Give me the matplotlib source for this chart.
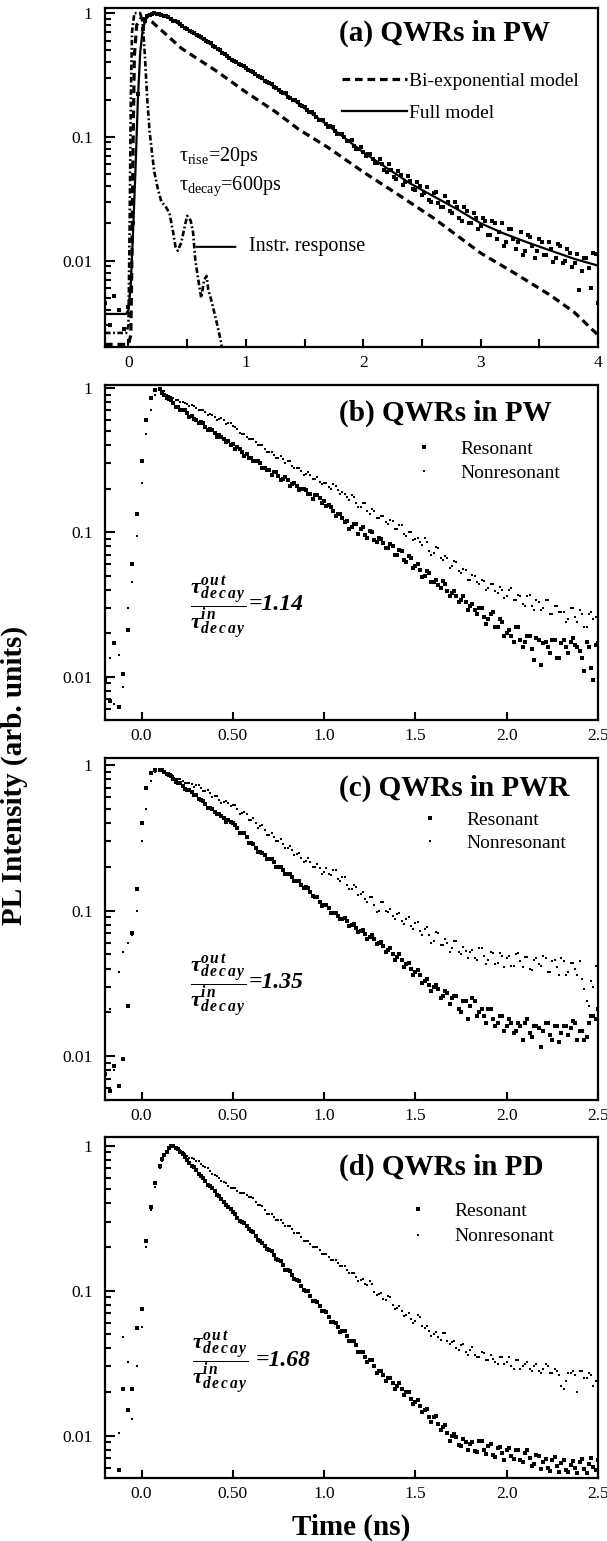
import numpy as np
import matplotlib
matplotlib.use('Agg')
import matplotlib.pyplot as plt
from matplotlib.ticker import FixedLocator, FixedFormatter, LogLocator, NullFormatter

plt.rcParams['font.family'] = ['Liberation Serif', 'DejaVu Serif']
plt.rcParams['mathtext.fontset'] = 'custom'
plt.rcParams['mathtext.rm'] = 'Liberation Serif'
plt.rcParams['mathtext.it'] = 'Liberation Serif:italic'
plt.rcParams['mathtext.bf'] = 'Liberation Serif:bold'
try:
    plt.rcParams['mathtext.bfit'] = 'Liberation Serif:italic:bold'
    HAS_BFIT = True
except KeyError:
    HAS_BFIT = False
plt.rcParams['lines.scale_dashes'] = False

# ---------------- Panel (a) data ----------------
time_a = [-0.20, -0.16, -0.12, -0.08, -0.04, 0.00, 0.04, 0.08, 0.12, 0.16,
          0.20, 0.24, 0.28, 0.32, 0.36, 0.40, 0.44, 0.48, 0.52, 0.56,
          0.60, 0.64, 0.68, 0.72, 0.76, 0.80, 0.84, 0.88, 0.92, 0.96,
          1.00, 1.04, 1.08, 1.12, 1.16, 1.20, 1.24, 1.28, 1.32, 1.36,
          1.40, 1.44, 1.48, 1.52, 1.56, 1.60, 1.64, 1.68, 1.72, 1.76,
          1.80, 1.84, 1.88, 1.92, 1.96, 2.00, 2.04, 2.08, 2.12, 2.16,
          2.20, 2.24, 2.28, 2.32, 2.36, 2.40, 2.44, 2.48, 2.52, 2.56,
          2.60, 2.64, 2.68, 2.72, 2.76, 2.80, 2.84, 2.88, 2.92, 2.96,
          3.00, 3.04, 3.08, 3.12, 3.16, 3.20, 3.24, 3.28, 3.32, 3.36,
          3.40, 3.44, 3.48, 3.52, 3.56, 3.60, 3.64, 3.68, 3.72, 3.76,
          3.80, 3.84, 3.88, 3.92, 3.96, 4.00]
data_a = [0.0045, 0.0030, 0.0052, 0.0040, 0.0028, 0.0042, 0.020, 0.22, 0.74, 0.95,
          0.99, 0.98, 0.97, 0.94, 0.90, 0.86, 0.81, 0.76, 0.72, 0.69,
          0.65, 0.62, 0.58, 0.54, 0.51, 0.48, 0.45, 0.42, 0.40, 0.38,
          0.36, 0.34, 0.32, 0.305, 0.285, 0.27, 0.255, 0.24, 0.225, 0.21,
          0.20, 0.19, 0.178, 0.165, 0.158, 0.145, 0.138, 0.128, 0.122, 0.112,
          0.105, 0.099, 0.092, 0.085, 0.080, 0.075, 0.072, 0.066, 0.062, 0.060,
          0.052, 0.054, 0.046, 0.049, 0.043, 0.044, 0.037, 0.040, 0.035, 0.031,
          0.035, 0.029, 0.027, 0.030, 0.024, 0.027, 0.021, 0.025, 0.020, 0.022,
          0.019, 0.021, 0.016, 0.020, 0.017, 0.013, 0.018, 0.015, 0.014, 0.011,
          0.016, 0.013, 0.012, 0.014, 0.011, 0.0125, 0.0105, 0.013, 0.010, 0.0115,
          0.0095, 0.0058, 0.0105, 0.0087, 0.0115, 0.0045]

time_a_mid = [0.14, 0.18, 0.22, 0.26, 0.30, 0.34, 0.38, 0.42, 0.46, 0.50,
              0.54, 0.58, 0.62, 0.66, 0.70, 0.74, 0.78, 0.82, 0.86, 0.90,
              0.94, 0.98, 1.02, 1.06, 1.10, 1.14, 1.18, 1.22, 1.26, 1.30,
              1.34, 1.38, 1.42, 1.46, 1.50, 1.54, 1.58, 1.62, 1.66, 1.70,
              1.74, 1.78, 1.82, 1.86, 1.90, 1.94, 1.98, 2.02, 2.06, 2.10,
              2.14, 2.18, 2.22, 2.26, 2.30, 2.34, 2.38, 2.42, 2.46, 2.50,
              2.54, 2.58, 2.62, 2.66, 2.70, 2.74, 2.78, 2.82, 2.86, 2.90,
              2.94, 2.98, 3.02, 3.06, 3.10, 3.14, 3.18, 3.22, 3.26, 3.30,
              3.34, 3.38, 3.42, 3.46, 3.50, 3.54, 3.58, 3.62, 3.66, 3.70,
              3.74, 3.78, 3.82, 3.86, 3.90, 3.94, 3.98]
data_a_mid = [0.86, 0.97, 1.0, 0.99, 0.95, 0.93, 0.87, 0.84, 0.78, 0.75,
              0.71, 0.66, 0.64, 0.59, 0.57, 0.53, 0.50, 0.47, 0.43, 0.41,
              0.39, 0.375, 0.345, 0.335, 0.31, 0.30, 0.275, 0.265, 0.25, 0.23,
              0.225, 0.205, 0.197, 0.18, 0.175, 0.158, 0.153, 0.138, 0.136, 0.12,
              0.12, 0.105, 0.106, 0.092, 0.094, 0.08, 0.083, 0.07, 0.073, 0.061,
              0.066, 0.054, 0.060, 0.047, 0.053, 0.041, 0.048, 0.038, 0.043, 0.034,
              0.039, 0.030, 0.036, 0.027, 0.033, 0.025, 0.030, 0.022, 0.027, 0.020,
              0.024, 0.018, 0.022, 0.016, 0.021, 0.015, 0.020, 0.014, 0.018, 0.0125,
              0.017, 0.012, 0.0155, 0.0105, 0.015, 0.011, 0.014, 0.0098, 0.0135, 0.0095,
              0.0125, 0.0088, 0.0112, 0.0082, 0.0105, 0.0060, 0.0112]

model_t = [-0.20, -0.02, 0.00, 0.02, 0.04, 0.06, 0.08, 0.10, 0.12, 0.15,
           0.20, 0.25, 0.30, 0.40, 0.50, 0.60, 0.70, 0.80, 0.90, 1.00,
           1.20, 1.40, 1.60, 1.80, 2.00, 2.20, 2.40, 2.60, 2.80, 3.00,
           3.20, 3.40, 3.60, 3.80, 4.00]
full_model = [0.0037, 0.0037, 0.0040, 0.0065, 0.018, 0.055, 0.20, 0.48, 0.72, 0.92,
              0.99, 1.0, 0.96, 0.85, 0.74, 0.64, 0.56, 0.48, 0.41, 0.36,
              0.27, 0.20, 0.145, 0.105, 0.075, 0.056, 0.042, 0.033, 0.026, 0.020,
              0.0165, 0.014, 0.012, 0.0103, 0.0091]

biexp_t = [-0.20, 0.00, 0.02, 0.03, 0.04, 0.05, 0.07, 0.10, 0.15, 0.20,
           0.30, 0.45, 0.60, 0.75, 1.00, 1.25, 1.45, 1.70, 2.00, 2.30,
           2.60, 3.00, 3.30, 3.60, 3.80, 4.00]
biexp_model = [0.0021, 0.0021, 0.0025, 0.012, 0.10, 0.45, 0.80, 0.90, 0.90, 0.85,
               0.70, 0.52, 0.42, 0.34, 0.23, 0.16, 0.115, 0.082, 0.052, 0.034,
               0.022, 0.0115, 0.0078, 0.0052, 0.0038, 0.0025]

instr_t = [-0.20, -0.02, 0.00, 0.01, 0.02, 0.03, 0.05, 0.10, 0.12, 0.14,
           0.16, 0.18, 0.20, 0.22, 0.25, 0.28, 0.32, 0.35, 0.38, 0.40,
           0.42, 0.45, 0.48, 0.50, 0.53, 0.55, 0.57, 0.60, 0.62, 0.645,
           0.665, 0.68, 0.70, 0.72, 0.75, 0.78, 0.80]
instr_resp = [0.0026, 0.0026, 0.003, 0.02, 0.2, 0.7, 1.0, 1.0, 0.85, 0.45,
              0.20, 0.11, 0.075, 0.052, 0.038, 0.030, 0.027, 0.024, 0.017, 0.013,
              0.012, 0.014, 0.019, 0.023, 0.021, 0.017, 0.010, 0.0065, 0.0050, 0.0070,
              0.0075, 0.0058, 0.0050, 0.0042, 0.0032, 0.0024, 0.0019]

# ---------------- Panels (b)-(d) data ----------------
time_bcd = [-0.200, -0.175, -0.150, -0.125, -0.100, -0.075, -0.050, -0.025,
            0.000, 0.025, 0.050, 0.075, 0.100, 0.125, 0.150, 0.175,
            0.200, 0.225, 0.250, 0.275, 0.300, 0.325, 0.350, 0.375,
            0.400, 0.425, 0.450, 0.475, 0.500, 0.525, 0.550, 0.575,
            0.600, 0.625, 0.650, 0.675, 0.700, 0.725, 0.750, 0.775,
            0.800, 0.825, 0.850, 0.875, 0.900, 0.925, 0.950, 0.975,
            1.000, 1.025, 1.050, 1.075, 1.100, 1.125, 1.150, 1.175,
            1.200, 1.225, 1.250, 1.275, 1.300, 1.325, 1.350, 1.375,
            1.400, 1.425, 1.450, 1.475, 1.500, 1.525, 1.550, 1.575,
            1.600, 1.625, 1.650, 1.675, 1.700, 1.725, 1.750, 1.775,
            1.800, 1.825, 1.850, 1.875, 1.900, 1.925, 1.950, 1.975,
            2.000, 2.025, 2.050, 2.075, 2.100, 2.125, 2.150, 2.175,
            2.200, 2.225, 2.250, 2.275, 2.300, 2.325, 2.350, 2.375,
            2.400, 2.425, 2.450, 2.475, 2.500]
time_mid = [0.1125, 0.1375, 0.1625, 0.1875, 0.2125, 0.2375, 0.2625, 0.2875,
            0.3125, 0.3375, 0.3625, 0.3875, 0.4125, 0.4375, 0.4625, 0.4875,
            0.5125, 0.5375, 0.5625, 0.5875, 0.6125, 0.6375, 0.6625, 0.6875,
            0.7125, 0.7375, 0.7625, 0.7875, 0.8125, 0.8375, 0.8625, 0.8875,
            0.9125, 0.9375, 0.9625, 0.9875, 1.0125, 1.0375, 1.0625, 1.0875,
            1.1125, 1.1375, 1.1625, 1.1875, 1.2125, 1.2375, 1.2625, 1.2875,
            1.3125, 1.3375, 1.3625, 1.3875, 1.4125, 1.4375, 1.4625, 1.4875,
            1.5125, 1.5375, 1.5625, 1.5875, 1.6125, 1.6375, 1.6625, 1.6875,
            1.7125, 1.7375, 1.7625, 1.7875, 1.8125, 1.8375, 1.8625, 1.8875,
            1.9125, 1.9375, 1.9625, 1.9875, 2.0125, 2.0375, 2.0625, 2.0875,
            2.1125, 2.1375, 2.1625, 2.1875, 2.2125, 2.2375, 2.2625, 2.2875,
            2.3125, 2.3375, 2.3625, 2.3875, 2.4125, 2.4375, 2.4625, 2.4875]

res_b = [0.0095, 0.0068, 0.017, 0.0062, 0.0105, 0.021, 0.060, 0.135,
         0.31, 0.60, 0.86, 0.97, 0.98, 0.90, 0.84, 0.79,
         0.74, 0.71, 0.67, 0.64, 0.60, 0.58, 0.54, 0.52,
         0.49, 0.47, 0.44, 0.43, 0.41, 0.39, 0.36, 0.35,
         0.33, 0.31, 0.30, 0.28, 0.27, 0.26, 0.245, 0.235,
         0.23, 0.215, 0.21, 0.20, 0.195, 0.185, 0.18, 0.172,
         0.165, 0.155, 0.14, 0.135, 0.125, 0.12, 0.108, 0.115,
         0.105, 0.096, 0.102, 0.088, 0.092, 0.084, 0.078, 0.080,
         0.070, 0.074, 0.062, 0.066, 0.058, 0.055, 0.050, 0.052,
         0.045, 0.043, 0.046, 0.039, 0.038, 0.036, 0.034, 0.033,
         0.031, 0.029, 0.030, 0.026, 0.025, 0.028, 0.022, 0.024,
         0.020, 0.019, 0.022, 0.018, 0.0175, 0.019, 0.013, 0.018,
         0.017, 0.016, 0.018, 0.0135, 0.017, 0.016, 0.0175, 0.0165,
         0.015, 0.011, 0.016, 0.0095, 0.017]
res_b_mid = [0.93, 0.85, 0.83, 0.74, 0.70, 0.70, 0.63, 0.61,
             0.57, 0.57, 0.51, 0.51, 0.46, 0.46, 0.42, 0.40,
             0.38, 0.38, 0.34, 0.33, 0.31, 0.31, 0.28, 0.27,
             0.25, 0.26, 0.23, 0.24, 0.21, 0.22, 0.195, 0.20,
             0.185, 0.17, 0.18, 0.16, 0.152, 0.15, 0.13, 0.134,
             0.118, 0.105, 0.115, 0.098, 0.108, 0.092, 0.10, 0.085,
             0.09, 0.078, 0.083, 0.07, 0.075, 0.064, 0.068, 0.057,
             0.060, 0.049, 0.054, 0.045, 0.047, 0.041, 0.044, 0.036,
             0.039, 0.033, 0.036, 0.029, 0.032, 0.027, 0.030, 0.023,
             0.027, 0.022, 0.025, 0.019, 0.021, 0.0175, 0.022, 0.016,
             0.019, 0.0155, 0.0185, 0.012, 0.0175, 0.0145, 0.018, 0.0135,
             0.018, 0.0145, 0.0185, 0.016, 0.0135, 0.0175, 0.0115, 0.0165]
non_b = [0.0072, 0.0135, 0.0065, 0.014, 0.0085, 0.030, 0.045, 0.095,
         0.22, 0.48, 0.70, 0.90, 1.0, 0.95, 0.88, 0.85,
         0.82, 0.80, 0.77, 0.76, 0.73, 0.71, 0.68, 0.66,
         0.63, 0.61, 0.60, 0.57, 0.55, 0.52, 0.48, 0.46,
         0.44, 0.42, 0.40, 0.38, 0.36, 0.345, 0.33, 0.32,
         0.31, 0.29, 0.28, 0.265, 0.255, 0.25, 0.235, 0.225,
         0.22, 0.205, 0.215, 0.195, 0.19, 0.175, 0.18, 0.16,
         0.15, 0.16, 0.135, 0.14, 0.125, 0.13, 0.115, 0.12,
         0.105, 0.112, 0.095, 0.10, 0.09, 0.085, 0.092, 0.074,
         0.072, 0.078, 0.064, 0.066, 0.058, 0.062, 0.052, 0.055,
         0.047, 0.050, 0.044, 0.046, 0.041, 0.044, 0.038, 0.040,
         0.036, 0.041, 0.034, 0.036, 0.031, 0.037, 0.029, 0.033,
         0.030, 0.034, 0.027, 0.031, 0.028, 0.024, 0.030, 0.026,
         0.029, 0.022, 0.027, 0.025, 0.031]
non_b_mid = [0.96, 0.90, 0.87, 0.82, 0.80, 0.79, 0.75, 0.75,
             0.70, 0.70, 0.65, 0.65, 0.60, 0.62, 0.56, 0.57,
             0.54, 0.49, 0.48, 0.44, 0.44, 0.40, 0.40, 0.36,
             0.36, 0.33, 0.34, 0.30, 0.31, 0.28, 0.28, 0.25,
             0.26, 0.235, 0.24, 0.215, 0.22, 0.20, 0.21, 0.185,
             0.185, 0.168, 0.175, 0.15, 0.16, 0.14, 0.145, 0.125,
             0.13, 0.118, 0.122, 0.105, 0.112, 0.097, 0.10, 0.088,
             0.092, 0.082, 0.085, 0.07, 0.079, 0.066, 0.068, 0.057,
             0.063, 0.054, 0.056, 0.047, 0.051, 0.045, 0.047, 0.040,
             0.044, 0.039, 0.042, 0.035, 0.040, 0.034, 0.037, 0.032,
             0.036, 0.031, 0.034, 0.029, 0.034, 0.027, 0.031, 0.028,
             0.028, 0.025, 0.030, 0.024, 0.027, 0.022, 0.028, 0.026]

res_c = [0.0075, 0.0058, 0.0085, 0.0062, 0.0095, 0.022, 0.070, 0.14,
         0.40, 0.70, 0.88, 0.93, 0.92, 0.90, 0.86, 0.80,
         0.76, 0.72, 0.68, 0.65, 0.62, 0.58, 0.54, 0.51,
         0.48, 0.46, 0.43, 0.42, 0.40, 0.37, 0.34, 0.32,
         0.29, 0.27, 0.255, 0.24, 0.225, 0.215, 0.20, 0.19,
         0.18, 0.17, 0.16, 0.15, 0.145, 0.135, 0.125, 0.115,
         0.11, 0.104, 0.097, 0.092, 0.088, 0.085, 0.080, 0.076,
         0.073, 0.069, 0.066, 0.064, 0.060, 0.057, 0.054, 0.050,
         0.048, 0.046, 0.043, 0.040, 0.038, 0.036, 0.033, 0.031,
         0.030, 0.029, 0.026, 0.027, 0.025, 0.026, 0.020, 0.024,
         0.022, 0.024, 0.020, 0.019, 0.021, 0.018, 0.017, 0.019,
         0.016, 0.017, 0.015, 0.016, 0.017, 0.0145, 0.016, 0.0155,
         0.015, 0.017, 0.013, 0.016, 0.0145, 0.016, 0.0155, 0.017,
         0.015, 0.013, 0.017, 0.019, 0.021]
res_c_mid = [0.92, 0.87, 0.84, 0.77, 0.75, 0.69, 0.67, 0.62,
             0.59, 0.57, 0.51, 0.50, 0.46, 0.45, 0.41, 0.41,
             0.39, 0.34, 0.34, 0.29, 0.285, 0.255, 0.25, 0.225,
             0.225, 0.20, 0.20, 0.18, 0.18, 0.16, 0.16, 0.143,
             0.143, 0.127, 0.124, 0.108, 0.11, 0.097, 0.097, 0.087,
             0.089, 0.079, 0.081, 0.071, 0.074, 0.064, 0.068, 0.059,
             0.061, 0.052, 0.055, 0.046, 0.050, 0.041, 0.044, 0.036,
             0.039, 0.032, 0.034, 0.028, 0.031, 0.025, 0.028, 0.023,
             0.026, 0.021, 0.024, 0.018, 0.025, 0.019, 0.021, 0.017,
             0.021, 0.016, 0.019, 0.015, 0.018, 0.0145, 0.017, 0.013,
             0.018, 0.0135, 0.016, 0.0115, 0.017, 0.014, 0.016, 0.0125,
             0.016, 0.014, 0.0175, 0.013, 0.015, 0.0135, 0.019, 0.018]
non_c = [0.0068, 0.021, 0.008, 0.038, 0.052, 0.060, 0.068, 0.10,
         0.30, 0.50, 0.78, 0.90, 0.93, 0.91, 0.88, 0.84,
         0.80, 0.78, 0.76, 0.74, 0.73, 0.70, 0.66, 0.64,
         0.61, 0.58, 0.56, 0.55, 0.53, 0.50, 0.47, 0.46,
         0.42, 0.40, 0.38, 0.36, 0.33, 0.32, 0.30, 0.285,
         0.27, 0.26, 0.245, 0.23, 0.22, 0.215, 0.20, 0.195,
         0.185, 0.18, 0.19, 0.165, 0.17, 0.15, 0.14, 0.145,
         0.13, 0.12, 0.125, 0.11, 0.10, 0.115, 0.098, 0.092,
         0.095, 0.085, 0.088, 0.078, 0.082, 0.072, 0.075, 0.068,
         0.062, 0.070, 0.058, 0.060, 0.055, 0.062, 0.050, 0.053,
         0.052, 0.047, 0.055, 0.049, 0.046, 0.051, 0.044, 0.049,
         0.047, 0.042, 0.050, 0.045, 0.048, 0.040, 0.046, 0.043,
         0.049, 0.038, 0.045, 0.041, 0.047, 0.036, 0.044, 0.040,
         0.045, 0.029, 0.022, 0.030, 0.048]
non_c_mid = [0.93, 0.88, 0.87, 0.80, 0.80, 0.75, 0.76, 0.71,
             0.73, 0.66, 0.67, 0.60, 0.61, 0.55, 0.57, 0.52,
             0.53, 0.46, 0.48, 0.42, 0.43, 0.37, 0.39, 0.33,
             0.34, 0.30, 0.31, 0.27, 0.28, 0.24, 0.25, 0.215,
             0.23, 0.20, 0.21, 0.18, 0.195, 0.175, 0.19, 0.16,
             0.17, 0.14, 0.15, 0.128, 0.135, 0.115, 0.125, 0.098,
             0.115, 0.10, 0.102, 0.087, 0.096, 0.081, 0.09, 0.075,
             0.083, 0.068, 0.077, 0.06, 0.071, 0.058, 0.064, 0.052,
             0.062, 0.052, 0.056, 0.047, 0.054, 0.046, 0.055, 0.043,
             0.052, 0.043, 0.051, 0.041, 0.049, 0.042, 0.051, 0.041,
             0.048, 0.039, 0.047, 0.042, 0.047, 0.038, 0.046, 0.036,
             0.045, 0.038, 0.044, 0.036, 0.034, 0.024, 0.033, 0.042]

res_d = [np.nan, np.nan, np.nan, 0.0058, 0.021, 0.015, 0.021, 0.055,
         0.075, 0.22, 0.38, 0.55, 0.72, 0.87, 0.97, 1.0,
         0.95, 0.88, 0.80, 0.73, 0.68, 0.62, 0.57, 0.53,
         0.49, 0.45, 0.41, 0.38, 0.35, 0.32, 0.30, 0.28,
         0.26, 0.24, 0.22, 0.205, 0.19, 0.176, 0.163, 0.150,
         0.138, 0.128, 0.118, 0.108, 0.100, 0.092, 0.085, 0.078,
         0.072, 0.066, 0.061, 0.056, 0.053, 0.049, 0.045, 0.042,
         0.038, 0.035, 0.033, 0.030, 0.028, 0.026, 0.025, 0.023,
         0.022, 0.021, 0.020, 0.018, 0.017, 0.016, 0.015, 0.0135,
         0.0135, 0.012, 0.0115, 0.0105, 0.010, 0.0098, 0.0085, 0.0090,
         0.0088, 0.0078, 0.0092, 0.0080, 0.0085, 0.0074, 0.0082, 0.0076,
         0.0079, 0.0072, 0.0080, 0.0068, 0.0076, 0.0070, 0.0064, 0.0072,
         0.0066, 0.0060, 0.0068, 0.0062, 0.0065, 0.0058, 0.0063, 0.0060,
         0.0066, 0.0059, 0.0064, 0.0061, 0.0068]
res_d_mid = [0.81, 0.91, 0.99, 0.97, 0.91, 0.84, 0.76, 0.71,
             0.64, 0.60, 0.54, 0.51, 0.46, 0.43, 0.39, 0.365,
             0.34, 0.305, 0.295, 0.265, 0.255, 0.225, 0.215, 0.193,
             0.187, 0.166, 0.16, 0.14, 0.136, 0.12, 0.116, 0.101,
             0.099, 0.085, 0.084, 0.072, 0.071, 0.061, 0.060, 0.052,
             0.053, 0.045, 0.045, 0.038, 0.038, 0.032, 0.033, 0.027,
             0.028, 0.024, 0.025, 0.021, 0.023, 0.019, 0.020, 0.0165,
             0.0175, 0.0145, 0.0152, 0.0125, 0.0136, 0.011, 0.0118, 0.0092,
             0.0103, 0.0086, 0.0095, 0.0079, 0.0090, 0.0077, 0.0092, 0.0075,
             0.0087, 0.0071, 0.0084, 0.0068, 0.0082, 0.0069, 0.0080, 0.0066,
             0.0080, 0.0062, 0.0074, 0.0059, 0.0069, 0.0057, 0.0071, 0.0056,
             0.0068, 0.0056, 0.0067, 0.0055, 0.0069, 0.0055, 0.0070, 0.0058]
non_d = [np.nan, np.nan, np.nan, 0.0105, 0.048, 0.032, 0.013, 0.030,
         0.056, 0.20, 0.36, 0.52, 0.70, 0.85, 0.96, 0.99,
         0.96, 0.90, 0.85, 0.82, 0.79, 0.75, 0.71, 0.67,
         0.63, 0.60, 0.56, 0.53, 0.51, 0.49, 0.47, 0.46,
         0.44, 0.41, 0.39, 0.36, 0.34, 0.325, 0.31, 0.295,
         0.28, 0.265, 0.25, 0.235, 0.22, 0.21, 0.20, 0.19,
         0.18, 0.17, 0.162, 0.155, 0.148, 0.140, 0.132, 0.124,
         0.118, 0.112, 0.116, 0.098, 0.095, 0.088, 0.092, 0.080,
         0.076, 0.072, 0.068, 0.064, 0.062, 0.066, 0.055, 0.053,
         0.050, 0.048, 0.051, 0.045, 0.044, 0.040, 0.042, 0.038,
         0.039, 0.036, 0.035, 0.037, 0.033, 0.034, 0.031, 0.035,
         0.032, 0.030, 0.033, 0.029, 0.031, 0.029, 0.030, 0.028,
         0.029, 0.030, 0.027, 0.028, 0.022, 0.024, 0.027, 0.026,
         0.028, 0.025, 0.027, 0.022, 0.029]
non_d_mid = [0.79, 0.90, 0.98, 0.97, 0.93, 0.88, 0.83, 0.81,
             0.78, 0.72, 0.70, 0.64, 0.62, 0.57, 0.55, 0.51,
             0.51, 0.47, 0.475, 0.44, 0.435, 0.39, 0.385, 0.34,
             0.34, 0.31, 0.31, 0.28, 0.28, 0.25, 0.25, 0.222,
             0.22, 0.20, 0.20, 0.18, 0.18, 0.162, 0.163, 0.147,
             0.148, 0.132, 0.133, 0.117, 0.12, 0.11, 0.112, 0.093,
             0.097, 0.086, 0.09, 0.075, 0.078, 0.067, 0.07, 0.06,
             0.068, 0.057, 0.057, 0.049, 0.052, 0.046, 0.051, 0.043,
             0.045, 0.039, 0.043, 0.036, 0.041, 0.035, 0.038, 0.033,
             0.036, 0.032, 0.035, 0.031, 0.035, 0.029, 0.033, 0.030,
             0.032, 0.028, 0.031, 0.027, 0.031, 0.027, 0.029, 0.026,
             0.021, 0.027, 0.028, 0.020, 0.028, 0.025, 0.026, 0.024]

panel_titles = ['(a) QWRs in PW', '(b) QWRs in PW', '(c) QWRs in PWR', '(d) QWRs in PD']
ratios = ['=1.14', '=1.35', '=1.68']
series_labels = ['Resonant', 'Nonresonant']
xticks_a = [0, 1, 2, 3, 4]
xticklabels_a = ['0', '1', '2', '3', '4']
xticks_bcd = [0.0, 0.5, 1.0, 1.5, 2.0, 2.5]
xticklabels_bcd = ['0.0', '0.50', '1.0', '1.5', '2.0', '2.5']
yticks = [0.01, 0.1, 1]
yticklabels = ['0.01', '0.1', '1']

# ---------------- Figure ----------------
W, H = 607, 1541
fig = plt.figure(figsize=(W / 100, H / 100), dpi=100)

def px_axes(top, bottom, left=105, right=598):
    return [left / W, 1 - bottom / H, (right - left) / W, (bottom - top) / H]

ax_a = fig.add_axes(px_axes(8, 347))
ax_b = fig.add_axes(px_axes(385, 720))
ax_c = fig.add_axes(px_axes(758, 1100))
ax_d = fig.add_axes(px_axes(1137, 1478))

ylims = [(0.002, 1.1), (0.005, 1.05), (0.005, 1.12), (0.0051, 1.15)]

def style_axis(ax, ylim, xlim, xt, xtl, xminor=None):
    ax.set_yscale('log')
    ax.set_ylim(*ylim)
    ax.set_xlim(*xlim)
    for sp in ax.spines.values():
        sp.set_linewidth(1.6)
    ax.yaxis.set_major_locator(FixedLocator(yticks))
    ax.yaxis.set_major_formatter(FixedFormatter(yticklabels))
    ax.yaxis.set_minor_locator(LogLocator(base=10, subs=np.arange(2, 10), numticks=20))
    ax.yaxis.set_minor_formatter(NullFormatter())
    ax.xaxis.set_major_locator(FixedLocator(xt))
    ax.xaxis.set_major_formatter(FixedFormatter(xtl))
    ax.xaxis.set_minor_locator(FixedLocator(xminor if xminor is not None else []))
    ax.tick_params(axis='both', which='both', direction='in', top=False, right=False,
                   labelsize=12.5, width=1.5)
    ax.tick_params(axis='y', which='major', length=7, pad=9)
    ax.tick_params(axis='y', which='minor', length=4.5)
    ax.tick_params(axis='x', which='both', length=5.5, pad=6)

# Panel (a)
style_axis(ax_a, ylims[0], (-0.2, 4.0), xticks_a, xticklabels_a, xminor=[0.5, 1.5, 2.5, 3.5])
ax_a.plot(time_a, data_a, ls='none', marker='s', ms=2.2, mew=0, color='black')
ax_a.plot(time_a_mid, data_a_mid, ls='none', marker='s', ms=2.2, mew=0, color='black')
l_full, = ax_a.plot(model_t, full_model, color='black', lw=1.6, ls='-')
l_bi, = ax_a.plot(biexp_t, biexp_model, color='black', lw=2.3, ls=(0, (5.5, 3.5)))
ax_a.plot(instr_t, instr_resp, color='black', lw=1.9, ls=(0, (4, 1.8, 1.3, 1.8)))
ax_a.text(0.475, 0.926, panel_titles[0], transform=ax_a.transAxes, fontsize=21,
          fontweight='bold', ha='left', va='center')
ax_a.legend([l_bi, l_full], ['Bi-exponential model', 'Full model'], loc='upper left',
            bbox_to_anchor=(0.481, 0.811), frameon=False, fontsize=14, borderpad=0,
            borderaxespad=0, handlelength=3.35, handletextpad=0.1, labelspacing=0.75)
ax_a.text(0.43, 0.069, r'$\mathrm{\tau}_{\mathrm{rise}}$=20ps', fontsize=14.5,
          va='center', ha='left')
ax_a.text(0.43, 0.040, r'$\mathrm{\tau}_{\mathrm{decay}}$=600ps', fontsize=14.5,
          va='center', ha='left')
ax_a.annotate('Instr. response', xy=(0.58, 0.0129), xytext=(1.03, 0.0129),
              fontsize=14.5, va='center', ha='left',
              arrowprops=dict(arrowstyle='-', lw=1.5, color='black', shrinkA=8, shrinkB=0))

# Ratio text
if HAS_BFIT:
    frac_txt = (r'$\dfrac{\mathbfit{\tau}^{\mathbfit{o\,u\,t}}_{\mathbfit{d\,e\,c\,a\,y}}}'
                r'{\mathbfit{\tau}^{\mathbfit{i\,n}}_{\mathbfit{d\,e\,c\,a\,y}}}$')
else:
    frac_txt = (r'$\dfrac{\mathbf{\tau}^{\mathbf{out}}_{\mathbf{decay}}}'
                r'{\mathbf{\tau}^{\mathbf{in}}_{\mathbf{decay}}}$')

panels = [
    (ax_b, ylims[1], res_b, res_b_mid, non_b, non_b_mid, panel_titles[1], ratios[0], 0.916,
     (0.627, 0.836), 0.36, (0.229, 0.334), (0.292, 0.346)),
    (ax_c, ylims[2], res_c, res_c_mid, non_c, non_c_mid, panel_titles[2], ratios[1], 0.912,
     (0.639, 0.845), 0.31, (0.229, 0.333), (0.292, 0.345)),
    (ax_d, ylims[3], res_d, res_d_mid, non_d, non_d_mid, panel_titles[3], ratios[2], 0.912,
     (0.615, 0.809), 0.41, (0.233, 0.337), (0.305, 0.345)),
]

for ax, yl, res, res_m, non, non_m, title, ratio, ty, lpos, lsp, fpos, rpos in panels:
    style_axis(ax, yl, (-0.2, 2.5), xticks_bcd, xticklabels_bcd)
    h_non, = ax.plot(time_bcd, non, ls='none', marker='s', ms=2.1, mew=0, color='black')
    ax.plot(time_mid, non_m, ls='none', marker='s', ms=2.1, mew=0, color='black')
    h_res, = ax.plot(time_bcd, res, ls='none', marker='s', ms=3.3, mew=0, color='black')
    ax.plot(time_mid, res_m, ls='none', marker='s', ms=3.3, mew=0, color='black')
    ax.text(0.475, ty, title, transform=ax.transAxes, fontsize=21, fontweight='bold',
            ha='left', va='center')
    ax.legend([h_res, h_non], series_labels, loc='upper left', bbox_to_anchor=lpos,
              frameon=False, fontsize=14, borderpad=0, borderaxespad=0, handlelength=1.0,
              handletextpad=1.4, labelspacing=lsp, numpoints=1)
    ax.text(fpos[0], fpos[1], frac_txt, transform=ax.transAxes, fontsize=16,
            ha='center', va='center')
    ax.text(rpos[0], rpos[1], ratio, transform=ax.transAxes, fontsize=17,
            fontweight='bold', style='italic', ha='left', va='center')

ax_d.set_xlabel('Time (ns)', fontsize=21, fontweight='bold', labelpad=8)
fig.text(0.024, 1 - 775 / H, 'PL Intensity (arb. units)', rotation=90, fontsize=21,
         fontweight='bold', ha='center', va='center')

fig.savefig('out.png', dpi=100)
